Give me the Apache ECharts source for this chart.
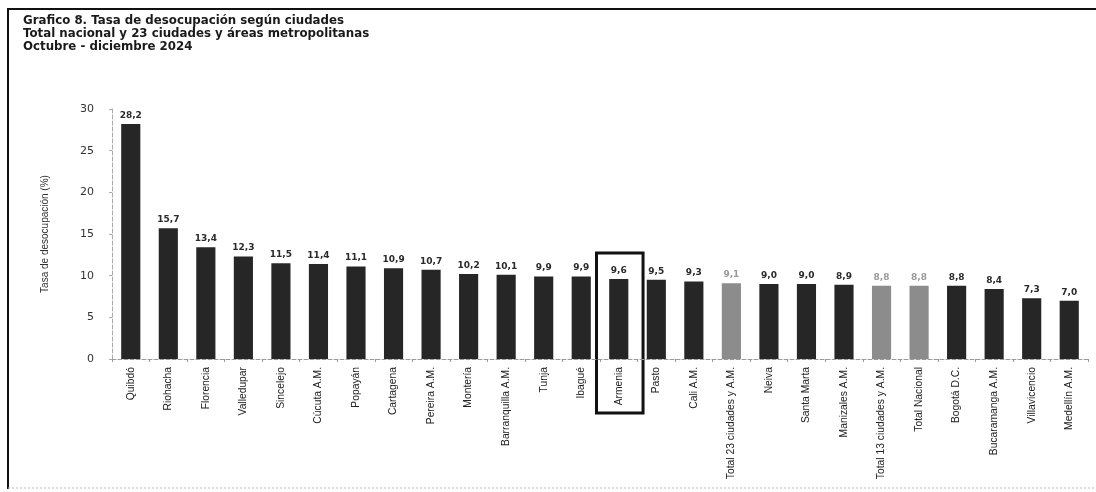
<!DOCTYPE html>
<html>
<head>
<meta charset="utf-8">
<script src="https://cdn.jsdelivr.net/npm/echarts@6/dist/echarts.min.js"></script>
<style>
html,body{margin:0;padding:0;background:#fff;}
#chart{width:1096px;height:492px;}
</style>
</head>
<body>
<div id="chart"></div>
<script>
const categories = ['Quibdó','Riohacha','Florencia','Valledupar','Sincelejo','Cúcuta A.M.','Popayán','Cartagena','Pereira A.M.','Montería','Barranquilla A.M.','Tunja','Ibagué','Armenia','Pasto','Cali A.M.','Total 23 ciudades y A.M.','Neiva','Santa Marta','Manizales A.M.','Total 13 ciudades y A.M.','Total Nacional','Bogotá D.C.','Bucaramanga A.M.','Villavicencio','Medellín A.M.'];
const values = [28.2,15.7,13.4,12.3,11.5,11.4,11.1,10.9,10.7,10.2,10.1,9.9,9.9,9.6,9.5,9.3,9.1,9.0,9.0,8.9,8.8,8.8,8.8,8.4,7.3,7.0];
const totals = ['Total 23 ciudades y A.M.','Total 13 ciudades y A.M.','Total Nacional'];
const highlighted = 'Armenia';
const yTicks = [0,5,10,15,20,25,30];
const titleLines = ['Grafico 8. Tasa de desocupación según ciudades','Total nacional y 23 ciudades y áreas metropolitanas','Octubre - diciembre 2024'];

const chart = echarts.init(document.getElementById('chart'), null, {renderer:'canvas'});
const data = values.map((v,i)=>{
  const isTotal = totals.includes(categories[i]);
  return {
    value: v,
    itemStyle: {color: isTotal ? '#8c8c8c' : '#262626'},
    label: {color: isTotal ? '#9a9a9a' : '#2a2a2a'}
  };
});
const option = {
  animation:false,
  backgroundColor:'#fff',
  title:{
    text: titleLines.join('\n'),
    left: 18, top: 9,
    textStyle:{fontFamily:'DejaVu Sans', fontWeight:'bold', fontSize:11.8, lineHeight:13, color:'#1a1a1a'}
  },
  grid:{left:112, right:8, top:109, bottom:133},
  xAxis:{
    type:'category', data:categories,
    axisLine:{show:true, lineStyle:{color:'#9a9a9a', type:'dashed', width:1}},
    axisTick:{show:true, alignWithLabel:false, length:3, lineStyle:{color:'#9a9a9a'}},
    axisLabel:{rotate:90, interval:0, margin:8, fontFamily:'Liberation Sans, Arial, sans-serif', fontSize:10.3, color:'#222'}
  },
  yAxis:{
    type:'value', min:0, max:30, interval:5,
    name:'Tasa de desocupación (%)',
    nameLocation:'middle', nameGap:62, nameRotate:90,
    nameTextStyle:{fontFamily:'Liberation Sans, sans-serif', fontSize:10, color:'#333'},
    axisLine:{show:true, lineStyle:{color:'#aaa', type:'dashed', width:1}},
    axisTick:{show:true, length:3, lineStyle:{color:'#aaa'}},
    splitLine:{show:false},
    axisLabel:{margin:18, fontFamily:'DejaVu Sans', fontSize:11, color:'#333',
      formatter:(v)=> yTicks.includes(v) ? String(v) : ''}
  },
  series:[{
    type:'bar', data:data, barWidth:'51%',
    label:{show:true, position:'top', distance:4, fontFamily:'DejaVu Sans', fontWeight:'bold', fontSize:9,
      formatter:(p)=> p.value.toFixed(1).replace('.',',')}
  }]
};
chart.setOption(option);

// frame + highlight box around Armenia
const idx = categories.indexOf(highlighted);
const c = chart.convertToPixel({xAxisIndex:0, yAxisIndex:0}, [idx, values[idx]]);
const base = chart.convertToPixel({xAxisIndex:0, yAxisIndex:0}, [idx, 0]);
const c2 = chart.convertToPixel({xAxisIndex:0, yAxisIndex:0}, [idx+1, 0]);
const step = c2[0]-c[0];
const halfW = step*0.62;
chart.setOption({
  graphic:[
    {type:'line', shape:{x1:8, y1:9, x2:1096, y2:9}, style:{stroke:'#111', lineWidth:2}},
    {type:'line', shape:{x1:8, y1:8, x2:8, y2:489}, style:{stroke:'#111', lineWidth:2}},
    {type:'line', shape:{x1:8, y1:488, x2:1096, y2:488}, style:{stroke:'#bbb', lineWidth:1, lineDash:[2,2]}},
    {type:'rect', shape:{x:c[0]-halfW+1, y:c[1]-26, width:halfW*2, height:(base[1]+54)-(c[1]-26)},
      style:{fill:'none', stroke:'#111', lineWidth:3}}
  ]
});
</script>
</body>
</html>
